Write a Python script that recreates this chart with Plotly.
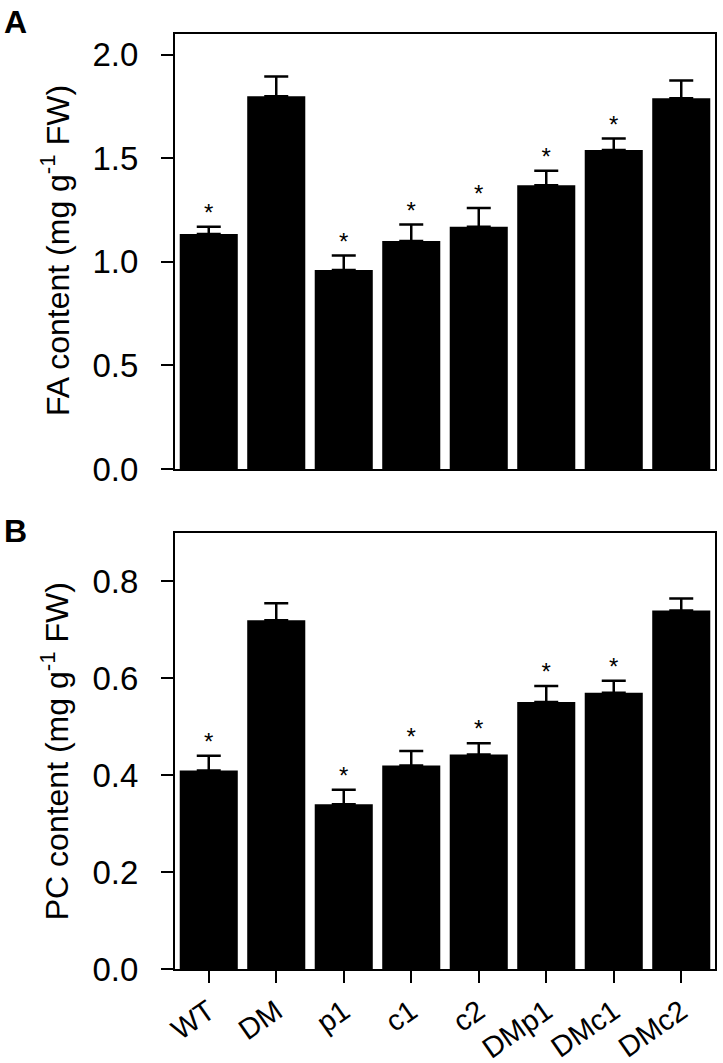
import plotly.graph_objects as go

categories = ["WT", "DM", "p1", "c1", "c2", "DMp1", "DMc1", "DMc2"]
fa_mean = [1.135, 1.80, 0.96, 1.10, 1.17, 1.37, 1.54, 1.79]
fa_err = [0.035, 0.095, 0.07, 0.08, 0.09, 0.07, 0.055, 0.085]
pc_mean = [0.41, 0.72, 0.34, 0.42, 0.443, 0.551, 0.57, 0.74]
pc_err = [0.03, 0.035, 0.03, 0.03, 0.023, 0.033, 0.025, 0.025]
significant = [True, False, True, True, True, True, True, False]

FONT = "Liberation Sans, Arial, sans-serif"

fig = go.Figure()

def add_panel(means, errs, xa, ya):
    fig.add_trace(go.Bar(
        x=categories, y=means, xaxis=xa, yaxis=ya,
        marker=dict(color="black", line=dict(width=0)),
        error_y=dict(type="data", array=errs, arrayminus=[0] * len(errs),
                     symmetric=False, color="black", thickness=2.5, width=12),
    ))
    sx = [c for c, s in zip(categories, significant) if s]
    sy = [m + e for m, e, s in zip(means, errs, significant) if s]
    fig.add_trace(go.Scatter(
        x=sx, y=sy, xaxis=xa, yaxis=ya, mode="text", text=["*"] * len(sx),
        textposition="top center", textfont=dict(size=24, color="black", family=FONT),
        cliponaxis=False, hoverinfo="skip",
    ))

add_panel(fa_mean, fa_err, "x", "y")
add_panel(pc_mean, pc_err, "x2", "y2")

axis_common = dict(showline=True, linecolor="black", linewidth=2, mirror=True,
                   showgrid=False, zeroline=False, automargin=False)
tickfont = dict(family=FONT, size=33, color="black")
xtickfont = dict(family=FONT, size=29, color="black")

fig.update_layout(
    width=723, height=1063,
    margin=dict(l=175, r=8, t=34, b=94),
    paper_bgcolor="white", plot_bgcolor="white",
    showlegend=False, bargap=0.14,
    font=dict(family=FONT, color="black"),
    xaxis=dict(domain=[0, 1], anchor="y", range=[-0.5, 7.5], showticklabels=False,
               ticks="", **axis_common),
    yaxis=dict(domain=[0.5348, 1], anchor="x", range=[0, 2.1], dtick=0.5, tick0=0,
               tickformat=".1f", ticks="outside", ticklen=12, tickwidth=2,
               tickcolor="black", tickfont=tickfont, ticklabelstandoff=16,
               **axis_common),
    xaxis2=dict(domain=[0, 1], anchor="y2", range=[-0.5, 7.5], ticks="outside",
                ticklen=12, tickwidth=2, tickcolor="black", tickangle=-35,
                tickfont=xtickfont, **axis_common),
    yaxis2=dict(domain=[0, 0.4663], anchor="x2", range=[0, 0.9], dtick=0.2, tick0=0,
                tickformat=".1f", ticks="outside", ticklen=12, tickwidth=2,
                tickcolor="black", tickfont=tickfont, ticklabelstandoff=16,
                **axis_common),
)

title_font = dict(family=FONT, size=32, color="black")
fig.add_annotation(text="FA content (mg g<sup>-1</sup> FW)", xref="paper", yref="paper",
                   x=-0.222, y=0.768, textangle=-90, showarrow=False, font=title_font,
                   xanchor="center", yanchor="middle")
fig.add_annotation(text="PC content (mg g<sup>-1</sup> FW)", xref="paper", yref="paper",
                   x=-0.222, y=0.233, textangle=-90, showarrow=False, font=title_font,
                   xanchor="center", yanchor="middle")

label_font = dict(family=FONT, size=32, color="black")
fig.add_annotation(text="<b>A</b>", xref="paper", yref="paper", x=-0.295, y=1.013,
                   showarrow=False, font=label_font, xanchor="center", yanchor="middle")
fig.add_annotation(text="<b>B</b>", xref="paper", yref="paper", x=-0.295, y=0.4684,
                   showarrow=False, font=label_font, xanchor="center", yanchor="middle")

fig.write_html("out.html", config={"displayModeBar": False},
               post_script="document.body.style.margin='0px';document.body.style.overflow='hidden';")
